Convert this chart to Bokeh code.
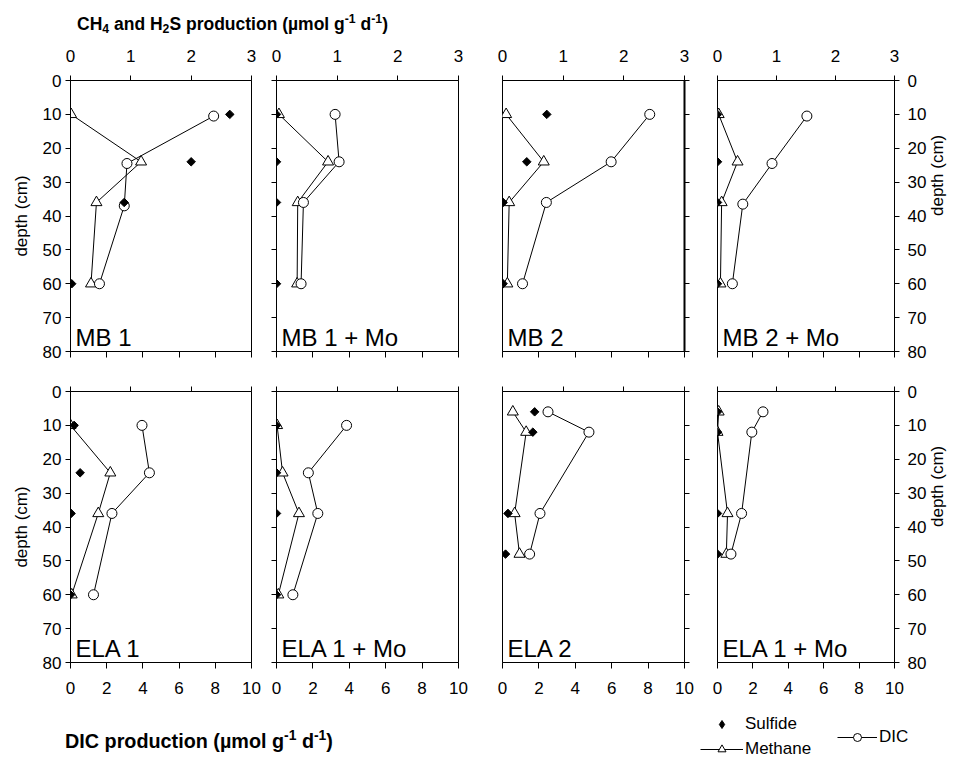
import numpy as np
from bokeh.plotting import figure
from bokeh.models import (Range1d, LinearAxis, FixedTicker, Label, Div, Legend, LegendItem,
                          CustomLabelingPolicy)
from bokeh.layouts import row, column
from bokeh.embed import file_html
from bokeh.resources import INLINE

FONT = "Liberation Sans"

# ---------------- data ----------------
panel_names = ["MB 1", "MB 1 + Mo", "MB 2", "MB 2 + Mo",
               "ELA 1", "ELA 1 + Mo", "ELA 2", "ELA 1 + Mo"]

depth_mb = [10, 24, 36, 60]
depth_ela1 = [10, 24, 36, 60]
depth_ela2 = [6, 12, 36, 48]

# MB 1
mb1_sulfide = [2.64, 2.00, 0.89, 0.02]
mb1_methane = [0.01, 1.17, 0.43, 0.34]
mb1_dic = [7.91, 3.12, 2.97, 1.60]
mb1_dic_depth = [10.5, 24.5, 37, 60]
# MB 1 + Mo
mb1mo_sulfide = [0.0, 0.0, 0.0, 0.0]
mb1mo_methane = [0.04, 0.85, 0.35, 0.34]
mb1mo_dic = [3.22, 3.44, 1.48, 1.35]
# MB 2
mb2_sulfide = [0.73, 0.40, 0.01, 0.01]
mb2_methane = [0.06, 0.68, 0.11, 0.08]
mb2_dic = [8.09, 5.97, 2.41, 1.10]
# MB 2 + Mo
mb2mo_sulfide = [0.0, 0.0, 0.0, 0.0]
mb2mo_methane = [0.02, 0.34, 0.07, 0.05]
mb2mo_dic = [5.05, 3.08, 1.43, 0.84]
mb2mo_dic_depth = [10.5, 24.5, 36.5, 60]
# ELA 1
ela1_sulfide = [0.06, 0.16, 0.01, 0.0]
ela1_methane = [0.0, 0.66, 0.46, 0.02]
ela1_dic = [3.95, 4.36, 2.29, 1.27]
# ELA 1 + Mo
ela1mo_sulfide = [0.0, 0.0, 0.0, 0.0]
ela1mo_methane = [0.01, 0.10, 0.37, 0.03]
ela1mo_dic = [3.85, 1.75, 2.27, 0.90]
# ELA 2
ela2_sulfide = [0.53, 0.50, 0.09, 0.05]
ela2_methane = [0.17, 0.39, 0.20, 0.28]
ela2_dic = [2.50, 4.75, 2.06, 1.49]
# ELA 1 + Mo (second, labelled so in the reference)
ela2mo_sulfide = [0.0, 0.0, 0.0, 0.0]
ela2mo_methane = [0.02, 0.0, 0.17, 0.15]
ela2mo_dic = [2.57, 1.94, 1.36, 0.76]

ch_ticks = [0, 1, 2, 3]
dic_ticks = [0, 2, 4, 6, 8, 10]
depth_ticks = [0, 10, 20, 30, 40, 50, 60, 70, 80]
depth_title = "depth (cm)"

panels = [
    (mb1_sulfide, depth_mb, mb1_methane, depth_mb, mb1_dic, mb1_dic_depth),
    (mb1mo_sulfide, depth_mb, mb1mo_methane, depth_mb, mb1mo_dic, depth_mb),
    (mb2_sulfide, depth_mb, mb2_methane, depth_mb, mb2_dic, depth_mb),
    (mb2mo_sulfide, depth_mb, mb2mo_methane, depth_mb, mb2mo_dic, mb2mo_dic_depth),
    (ela1_sulfide, depth_ela1, ela1_methane, depth_ela1, ela1_dic, depth_ela1),
    (ela1mo_sulfide, depth_ela1, ela1mo_methane, depth_ela1, ela1mo_dic, depth_ela1),
    (ela2_sulfide, depth_ela2, ela2_methane, depth_ela2, ela2_dic, depth_ela2),
    (ela2mo_sulfide, depth_ela2, ela2mo_methane, depth_ela2, ela2mo_dic, depth_ela2),
]

# ---------------- layout constants ----------------
col_w = [263, 217, 219, 260]
col_bl = [70, 13, 22, 18]
col_br = [12, 22, 15, 60]
row_h = 331
row_bt = [40, 20]
row_bb = [20, 40]


def style_axis(ax, labels, tick_out=5, standoff=4):
    ax.axis_line_color = "black"
    ax.axis_line_width = 1
    ax.major_tick_line_color = "black"
    ax.major_tick_in = 0
    ax.major_tick_out = tick_out
    ax.minor_tick_line_color = None
    ax.major_label_text_font = FONT
    ax.major_label_text_color = "black"
    ax.axis_label_text_color = "black"
    if labels:
        ax.major_label_text_font_size = "17px"
        ax.major_label_standoff = standoff
    else:
        ax.major_label_text_font_size = "0px"
        ax.major_label_standoff = 0
        ax.major_label_policy = CustomLabelingPolicy(code="return []")


def depth_label(ax, standoff):
    ax.axis_label = depth_title
    ax.axis_label_text_font = FONT
    ax.axis_label_text_font_size = "17px"
    ax.axis_label_text_font_style = "normal"
    ax.axis_label_text_color = "black"
    ax.axis_label_standoff = standoff


def make_panel(idx):
    r, c = divmod(idx, 4)
    s, sd, m, md, d, dd = panels[idx]
    p = figure(width=col_w[c], height=row_h,
               x_range=Range1d(0, 10), y_range=Range1d(80, 0),
               x_axis_location=None, y_axis_location=None,
               toolbar_location=None, output_backend="svg",
               min_border_left=col_bl[c], min_border_right=col_br[c],
               min_border_top=row_bt[r], min_border_bottom=row_bb[r])
    p.extra_x_ranges = {"ch": Range1d(0, 3)}
    p.xgrid.visible = False
    p.ygrid.visible = False
    p.outline_line_color = "black"
    p.outline_line_width = 1
    p.background_fill_color = "white"
    p.border_fill_color = "white"

    top = LinearAxis(x_range_name="ch", ticker=FixedTicker(ticks=ch_ticks))
    style_axis(top, labels=(r == 0), tick_out=5, standoff=14)
    p.add_layout(top, "above")

    bot = LinearAxis(ticker=FixedTicker(ticks=dic_ticks))
    style_axis(bot, labels=(r == 1), tick_out=6, standoff=13)
    p.add_layout(bot, "below")

    if c in (0, 1):
        left = LinearAxis(ticker=FixedTicker(ticks=depth_ticks))
        style_axis(left, labels=(c == 0), tick_out=5, standoff=4)
        if c == 0:
            depth_label(left, 9)
        p.add_layout(left, "left")
    if c in (2, 3):
        right = LinearAxis(ticker=FixedTicker(ticks=depth_ticks))
        style_axis(right, labels=(c == 3), tick_out=5, standoff=8)
        if c == 3:
            depth_label(right, 8)
            right.axis_label_orientation = np.pi / 2
        if idx == 2:
            right.axis_line_width = 2
        p.add_layout(right, "right")

    # lines
    p.line(d, dd, line_color="black", line_width=1)
    p.line(m, md, x_range_name="ch", line_color="black", line_width=1)
    # markers
    p.scatter(m, md, x_range_name="ch", marker="triangle", size=11,
              fill_color="white", line_color="black", line_width=1)
    p.scatter(d, dd, marker="circle", size=10,
              fill_color="white", line_color="black", line_width=1)
    p.scatter(s, sd, x_range_name="ch", marker="square", angle=np.pi / 4, size=6,
              fill_color="black", line_color="black")

    p.add_layout(Label(x=0, y=80, x_offset=5, y_offset=14, text=panel_names[idx],
                       text_font=FONT, text_font_size="24px", text_color="black",
                       text_baseline="alphabetic"))
    return p


figs = [make_panel(i) for i in range(8)]

sub = 'style="font-size:70%;vertical-align:-0.25em"'
sup = 'style="font-size:70%;vertical-align:0.55em"'
title_div = Div(
    text=('<div style="font-family:\'Liberation Sans\',Arial,sans-serif;font-weight:bold;'
          'font-size:17.5px;line-height:20px;color:#000;padding-left:77px;padding-top:9px;white-space:nowrap;">'
          f'CH<span {sub}>4</span> and H<span {sub}>2</span>S production '
          f'(µmol g<span {sup}>-1</span> d<span {sup}>-1</span>)</div>'),
    width=959, height=40, margin=0)

dic_div = Div(
    text=('<div style="font-family:\'Liberation Sans\',Arial,sans-serif;font-weight:bold;'
          'font-size:19.8px;line-height:22px;color:#000;padding-left:65px;padding-top:22px;white-space:nowrap;">'
          f'DIC production (µmol g<span {sup}>-1</span> d<span {sup}>-1</span>)</div>'),
    width=480, height=57, margin=0)

# legend panel
lf = figure(width=479, height=57, x_range=Range1d(0, 1), y_range=Range1d(0, 1),
            x_axis_location=None, y_axis_location=None, toolbar_location=None,
            output_backend="svg", min_border=0)
lf.xgrid.visible = False
lf.ygrid.visible = False
lf.outline_line_color = None
nan = np.array([np.nan])
r_s = lf.scatter(x=nan, y=nan, marker="diamond", size=10,
                 fill_color="black", line_color="black")
r_ml = lf.line(x=nan, y=nan, line_color="black", line_width=1)
r_m = lf.scatter(x=nan, y=nan, marker="triangle", size=11, fill_color="white", line_color="black")
r_dl = lf.line(x=nan, y=nan, line_color="black", line_width=1)
r_d = lf.scatter(x=nan, y=nan, marker="circle", size=10, fill_color="white", line_color="black")


def style_legend(lg):
    lg.border_line_color = None
    lg.background_fill_alpha = 0
    lg.padding = 0
    lg.margin = 0
    lg.label_text_font = FONT
    lg.label_text_font_size = "17px"
    lg.label_text_color = "black"
    lg.label_height = 20
    lg.glyph_height = 20


leg1 = Legend(items=[LegendItem(label="Sulfide", renderers=[r_s]),
                     LegendItem(label="Methane", renderers=[r_ml, r_m])],
              location=(220, 0), orientation="vertical")
style_legend(leg1)
leg1.glyph_width = 43
leg1.label_standoff = 2
leg1.spacing = 5
lf.add_layout(leg1, "center")

leg2 = Legend(items=[LegendItem(label="DIC", renderers=[r_dl, r_d])],
              location=(357, 12), orientation="vertical")
style_legend(leg2)
leg2.glyph_width = 40
leg2.label_standoff = 2
lf.add_layout(leg2, "center")

layout = column(title_div,
                row(*figs[0:4], spacing=0),
                row(*figs[4:8], spacing=0),
                row(dic_div, lf, spacing=0),
                spacing=0)

open("out.html", "w").write(file_html(layout, INLINE))
